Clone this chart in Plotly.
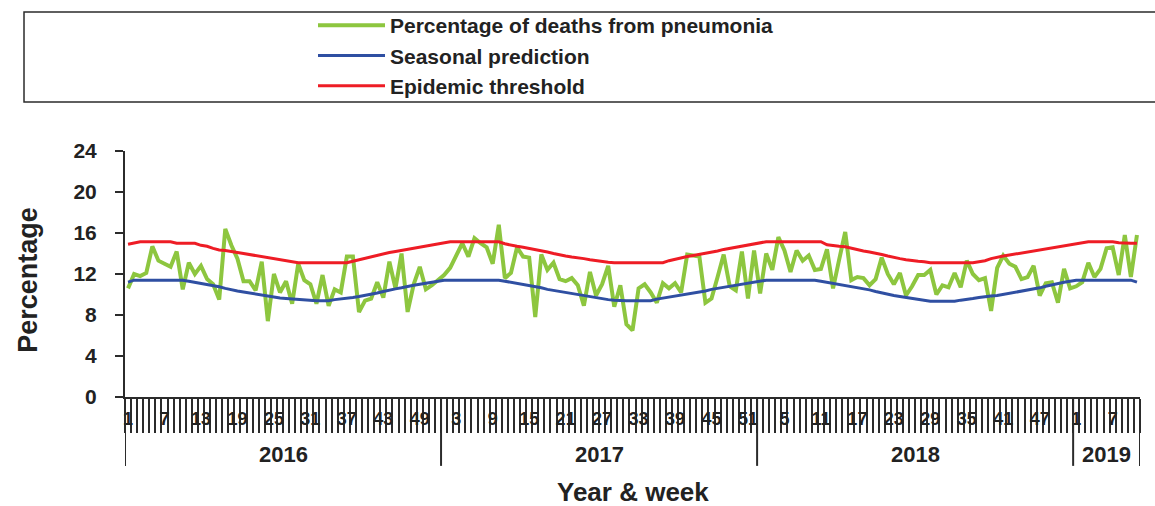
import plotly.graph_objects as go

# ---------------- data ----------------
year_list = [2016, 2017, 2018, 2019]
weeks_per_year = [52, 52, 52, 11]

pneumonia = [
    10.6, 12.0, 11.8, 12.1, 14.7, 13.3, 13.0, 12.7, 14.2, 10.5,
    13.1, 12.0, 12.8, 11.5, 11.0, 9.5, 16.4, 14.8, 13.5, 11.3,
    11.3, 10.4, 13.2, 7.4, 12.0, 10.2, 11.3, 9.1, 13.0, 11.4,
    11.0, 9.1, 11.9, 8.9, 10.5, 10.2, 13.7, 13.7, 8.3, 9.4,
    9.6, 11.2, 9.7, 13.2, 10.6, 14.0, 8.3, 11.0, 12.7, 10.5,
    10.9, 11.4, 11.9, 12.6, 13.8, 15.0, 13.7, 15.5, 15.0, 14.6,
    13.0, 16.8, 11.6, 12.1, 14.6, 13.7, 13.6, 7.8, 13.9, 12.4,
    13.1, 11.5, 11.3, 11.6, 10.9, 8.9, 12.2, 9.9, 11.0, 12.8,
    8.8, 10.9, 7.1, 6.5, 10.6, 11.0, 10.2, 9.2, 11.1, 10.6,
    11.1, 10.2, 13.9, 13.8, 13.7, 9.2, 9.6, 11.7, 13.9, 10.8,
    10.4, 14.2, 9.6, 14.3, 10.1, 14.0, 12.4, 15.6, 14.3, 12.2,
    14.3, 13.3, 13.8, 12.4, 12.5, 14.4, 10.6, 13.4, 16.1, 11.4,
    11.7, 11.6, 10.9, 11.5, 13.6, 12.0, 11.0, 12.1, 9.9, 10.8,
    11.9, 11.9, 12.4, 10.0, 10.9, 10.7, 12.1, 10.7, 13.3, 12.0,
    11.4, 11.6, 8.4, 12.6, 13.8, 13.0, 12.7, 11.5, 11.7, 12.8,
    9.9, 11.1, 11.2, 9.2, 12.5, 10.6, 10.8, 11.2, 13.1, 11.7,
    12.5, 14.5, 14.6, 11.9, 15.8, 11.7, 15.8,
]

seasonal = [
    11.2, 11.4, 11.4, 11.4, 11.4, 11.4, 11.4, 11.4, 11.4, 11.4,
    11.3, 11.2, 11.1, 11.0, 10.9, 10.75, 10.6, 10.45, 10.35, 10.25,
    10.15, 10.0, 9.9, 9.8, 9.7, 9.65, 9.6, 9.55, 9.5, 9.45,
    9.4, 9.4, 9.4, 9.4, 9.5, 9.55, 9.6, 9.7, 9.8, 9.9,
    10.0, 10.15, 10.3, 10.45, 10.55, 10.65, 10.8, 10.9, 11.0, 11.1,
    11.2, 11.3, 11.4, 11.4, 11.4, 11.4, 11.4, 11.4, 11.4, 11.4,
    11.4, 11.4, 11.3, 11.2, 11.1, 11.0, 10.9, 10.75, 10.65, 10.5,
    10.4, 10.3, 10.2, 10.1, 9.95, 9.85, 9.75, 9.65, 9.55, 9.5,
    9.45, 9.4, 9.4, 9.4, 9.4, 9.4, 9.4, 9.55, 9.65, 9.75,
    9.85, 9.9, 10.0, 10.1, 10.2, 10.35, 10.5, 10.6, 10.7, 10.8,
    10.9, 11.0, 11.1, 11.2, 11.3, 11.4, 11.4, 11.4, 11.4, 11.4,
    11.4, 11.4, 11.4, 11.4, 11.3, 11.2, 11.1, 11.0, 10.9, 10.75,
    10.65, 10.55, 10.45, 10.3, 10.15, 10.0, 9.9, 9.8, 9.7, 9.6,
    9.5, 9.45, 9.35, 9.35, 9.35, 9.35, 9.35, 9.45, 9.5, 9.6,
    9.7, 9.8, 9.85, 9.9, 10.0, 10.1, 10.2, 10.3, 10.4, 10.5,
    10.65, 10.8, 10.95, 11.1, 11.2, 11.3, 11.4, 11.4, 11.4, 11.4,
    11.4, 11.4, 11.4, 11.4, 11.4, 11.4, 11.2,
]

threshold = [
    14.9, 15.0, 15.15, 15.15, 15.15, 15.15, 15.15, 15.15, 15.0, 15.0,
    15.0, 15.0, 14.8, 14.7, 14.5, 14.35, 14.3, 14.2, 14.1, 13.95,
    13.85, 13.75, 13.65, 13.55, 13.45, 13.35, 13.25, 13.15, 13.1, 13.1,
    13.1, 13.1, 13.1, 13.1, 13.1, 13.1, 13.1, 13.25, 13.4, 13.55,
    13.7, 13.85, 14.0, 14.1, 14.2, 14.3, 14.45, 14.55, 14.65, 14.75,
    14.85, 14.95, 15.05, 15.15, 15.15, 15.15, 15.15, 15.15, 15.15, 15.15,
    15.15, 15.15, 14.95, 14.8, 14.7, 14.6, 14.5, 14.4, 14.25, 14.15,
    14.0, 13.85, 13.75, 13.65, 13.6, 13.5, 13.4, 13.3, 13.2, 13.15,
    13.1, 13.1, 13.1, 13.1, 13.1, 13.1, 13.1, 13.1, 13.1, 13.3,
    13.45, 13.6, 13.7, 13.8, 13.9, 14.05, 14.15, 14.25, 14.4, 14.5,
    14.6, 14.7, 14.8, 14.9, 15.0, 15.15, 15.15, 15.15, 15.15, 15.15,
    15.15, 15.15, 15.15, 15.15, 15.15, 14.85, 14.75, 14.7, 14.65, 14.5,
    14.35, 14.25, 14.15, 14.05, 13.9, 13.75, 13.6, 13.5, 13.4, 13.3,
    13.25, 13.2, 13.1, 13.1, 13.1, 13.1, 13.1, 13.1, 13.1, 13.1,
    13.2, 13.3, 13.5, 13.65, 13.75, 13.85, 13.95, 14.05, 14.15, 14.3,
    14.4, 14.5, 14.6, 14.7, 14.8, 14.9, 15.0, 15.05, 15.15, 15.15,
    15.15, 15.15, 15.15, 15.05, 15.0, 15.0, 15.0,
]

label_step = 6
y_ticks = [0, 4, 8, 12, 16, 20, 24]

# ---------------- derived category structure ----------------
years = []
weeks = []
for yr, n in zip(year_list, weeks_per_year):
    for w in range(1, n + 1):
        years.append(yr)
        weeks.append(w)
idx = list(range(len(weeks)))

tickvals = idx[::label_step]
ticktext = [str(weeks[i]) for i in tickvals]

boundaries = [-0.5]
for n in weeks_per_year:
    boundaries.append(boundaries[-1] + n)
centers = [(boundaries[k] + boundaries[k + 1]) / 2 for k in range(len(year_list))]

FONT = "Liberation Sans, Arial, sans-serif"
AX = "#2b2b2b"
TXT = "#222"

fig = go.Figure()
fig.add_trace(go.Scatter(x=idx, y=pneumonia, mode="lines",
                         name="Percentage of deaths from pneumonia",
                         line=dict(color="#8DC63F", width=4)))
fig.add_trace(go.Scatter(x=idx, y=seasonal, mode="lines",
                         name="Seasonal prediction",
                         line=dict(color="#2F4FA2", width=3)))
fig.add_trace(go.Scatter(x=idx, y=threshold, mode="lines",
                         name="Epidemic threshold",
                         line=dict(color="#EE1C25", width=3)))

shapes = []
# legend frame
shapes.append(dict(type="rect", xref="paper", yref="paper",
                   x0=-0.0995, x1=1.03, y0=1.199, y1=1.565,
                   line=dict(color=AX, width=1.5), fillcolor="rgba(0,0,0,0)", layer="below"))
# year separators
for b in boundaries:
    shapes.append(dict(type="line", xref="x", yref="paper", x0=b, x1=b,
                       y0=0, y1=-0.28, line=dict(color=AX, width=2)))

annotations = []
for yr, c in zip(year_list, centers):
    annotations.append(dict(x=c, y=-0.235, xref="x", yref="paper", text=str(yr),
                            showarrow=False, yanchor="middle",
                            font=dict(family=FONT, size=22, color=TXT, weight="bold")))
annotations.append(dict(x=0.5, y=-0.387, xref="paper", yref="paper", text="Year & week",
                        showarrow=False, yanchor="middle",
                        font=dict(family=FONT, size=26, color=TXT, weight="bold")))
annotations.append(dict(x=-0.0956, y=0.476, xref="paper", yref="paper", text="Percentage",
                        textangle=-90, showarrow=False, xanchor="center", yanchor="middle",
                        font=dict(family=FONT, size=27, color=TXT, weight="bold")))

fig.update_layout(
    width=1155, height=506,
    margin=dict(l=125, r=15, t=151, b=109, autoexpand=False),
    paper_bgcolor="white", plot_bgcolor="white",
    font=dict(family=FONT, color=TXT),
    showlegend=True,
    legend=dict(xref="container", yref="container",
                x=0.271, xanchor="left", y=0.99, yanchor="top",
                bgcolor="rgba(0,0,0,0)", borderwidth=0,
                font=dict(family=FONT, size=21, color=TXT, weight="bold"),
                itemwidth=67, tracegroupgap=0),
    shapes=shapes,
    annotations=annotations,
    xaxis=dict(range=[-0.5, len(idx) - 0.5], showgrid=False, zeroline=False,
               showline=True, linecolor=AX, linewidth=2,
               tickmode="array", tickvals=tickvals, ticktext=ticktext,
               ticks="", ticklabelstandoff=4,
               tickfont=dict(family=FONT, size=18, color=TXT, weight="bold"),
               minor=dict(tickmode="linear", tick0=-0.5, dtick=1, ticks="outside",
                          ticklen=34, tickwidth=2, tickcolor=AX, showgrid=False)),
    yaxis=dict(range=[0, 24], tickmode="array", tickvals=y_ticks,
               showgrid=False, zeroline=False,
               showline=True, linecolor=AX, linewidth=2,
               ticks="outside", ticklen=8, tickwidth=2, tickcolor=AX,
               ticklabelstandoff=14,
               tickfont=dict(family=FONT, size=21, color=TXT, weight="bold")),
)

fig.write_html("out.html", config={"displayModeBar": False},
               post_script="document.body.style.margin='0';")
